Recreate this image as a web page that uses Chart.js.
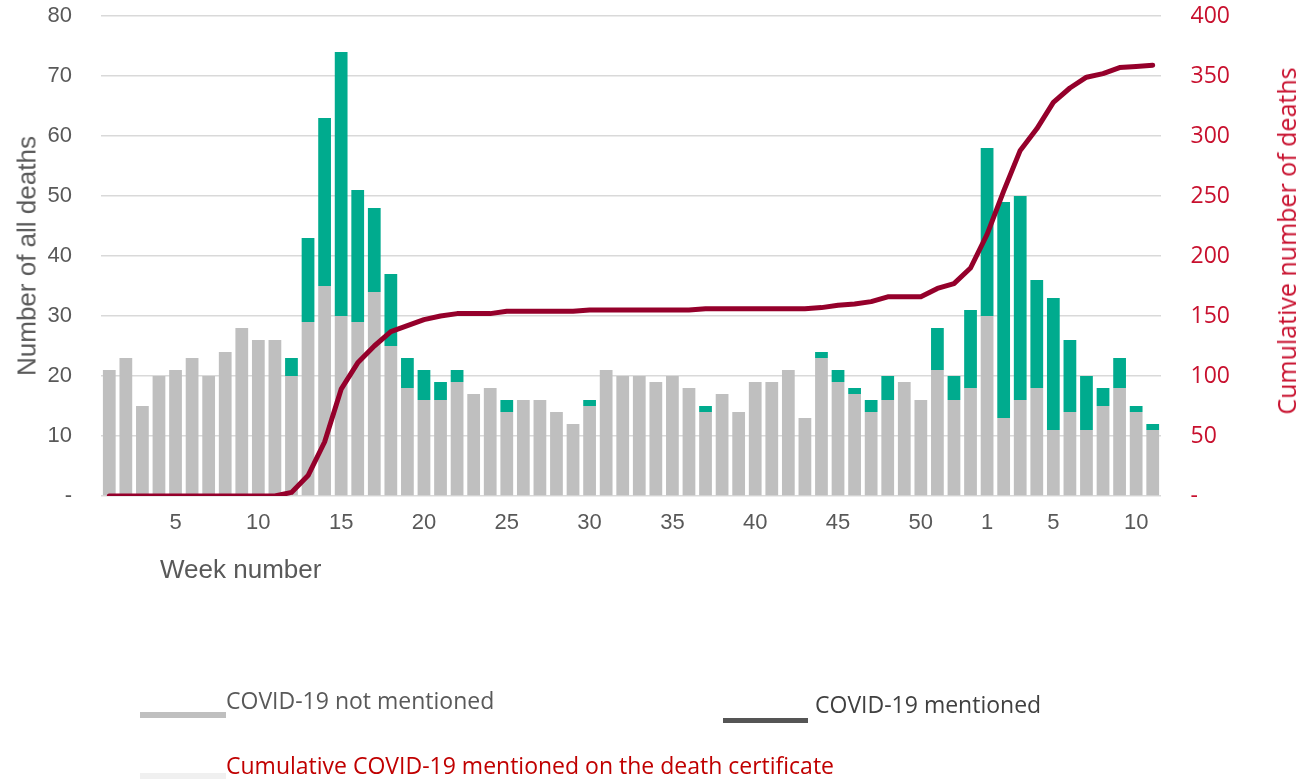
<!DOCTYPE html>
<html>
<head>
<meta charset="utf-8">
<script src="https://cdn.jsdelivr.net/npm/chart.js@4.4.1/dist/chart.umd.min.js"></script>
<style>
  html, body { margin: 0; padding: 0; background: #ffffff; }
  #wrap { position: relative; width: 1301px; height: 779px; overflow: hidden; }
  #c { position: absolute; left: 0; top: 0; }
  .t { position: absolute; white-space: nowrap; }
  .lib { font-family: "Liberation Sans", Arial, sans-serif; line-height: 1.117; }
  .os { font-family: "Open Sans", "Noto Sans", sans-serif; line-height: 1.362; }
  .sw { position: absolute; }
</style>
</head>
<body>
<div id="wrap">
  <canvas id="c" width="1301" height="779"></canvas>

  <div class="t lib" id="ytitle" style="font-size:26px;color:#595959;left:27px;top:256px;transform:translate(-50%,-50%) rotate(-90deg);">Number of all deaths</div>
  <div class="t os" id="y1title" style="font-size:25px;color:#C8102E;left:1286px;top:241px;transform:translate(-50%,-50%) rotate(-90deg);">Cumulative number of deaths</div>
  <div class="t lib" style="font-size:26px;color:#595959;left:160px;top:554.5px;">Week number</div>

  <div class="sw" style="left:140px;top:712px;width:86px;height:6px;background:#BFBFBF;"></div>
  <div class="t os" style="font-size:23px;color:#595959;left:226px;top:685.4px;">COVID-19 not mentioned</div>

  <div class="sw" style="left:723px;top:718px;width:85px;height:5px;background:#555555;"></div>
  <div class="t os" style="font-size:23px;color:#404040;left:815px;top:689.4px;">COVID-19 mentioned</div>

  <div class="sw" style="left:140px;top:773px;width:86px;height:6px;background:#F0F0F0;"></div>
  <div class="t os" style="font-size:23px;color:#C00000;left:226px;top:750.4px;">Cumulative COVID-19 mentioned on the death certificate</div>
</div>

<script>
// Week categories: 2020 weeks 1-53, then 2021 weeks 1-11
const weeks = [
  '1','2','3','4','5','6','7','8','9','10','11','12','13','14','15','16','17','18','19','20',
  '21','22','23','24','25','26','27','28','29','30','31','32','33','34','35','36','37','38','39','40',
  '41','42','43','44','45','46','47','48','49','50','51','52','53',
  '1','2','3','4','5','6','7','8','9','10','11'
];
const tickLabels = [
  '','','','','5','','','','','10','','','','','15','','','','','20',
  '','','','','25','','','','','30','','','','','35','','','','','40',
  '','','','','45','','','','','50','','','',
  '1','','','','5','','','','','10',''
];
// COVID-19 not mentioned (grey)
const notMentioned = [
  21,23,15,20,21,23,20,24,28,26,26,20,29,35,30,29,34,25,18,16,
  16,19,17,18,14,16,16,14,12,15,21,20,20,19,20,18,14,17,14,19,
  19,21,13,23,19,17,14,16,19,16,21,16,18,
  30,13,16,18,11,14,11,15,18,14,11
];
// COVID-19 mentioned (green)
const mentioned = [
  0,0,0,0,0,0,0,0,0,0,0,3,14,28,44,22,14,12,5,5,
  3,2,0,0,2,0,0,0,0,1,0,0,0,0,0,0,1,0,0,0,
  0,0,0,1,2,1,2,4,0,0,7,4,13,
  28,36,34,18,22,12,9,3,5,1,1
];
// Cumulative COVID-19 mentioned on the death certificate (line, right axis)
const cumulative = [
  0,0,0,0,0,0,0,0,0,0,0,3,17,45,89,111,125,137,142,147,
  150,152,152,152,154,154,154,154,154,155,155,155,155,155,155,155,156,156,156,156,
  156,156,156,157,159,160,162,166,166,166,173,177,190,
  218,254,288,306,328,340,349,352,357,358,359
];
const leftTicks = [0,10,20,30,40,50,60,70,80];
const rightTicks = [0,50,100,150,200,250,300,350,400];

const grey = '#BFBFBF';
const green = '#00AB8E';
const lineColor = '#95002B';
const axisGrey = '#595959';
const red = '#C8102E';

function noPad(s) { s.paddingTop = 0; s.paddingBottom = 0; s.paddingLeft = 0; s.paddingRight = 0; }

const ctx = document.getElementById('c').getContext('2d');
new Chart(ctx, {
  data: {
    labels: weeks,
    datasets: [
      {
        type: 'line', label: 'Cumulative COVID-19 mentioned on the death certificate',
        data: cumulative, yAxisID: 'y1', order: 0,
        borderColor: lineColor, backgroundColor: lineColor, borderWidth: 5,
        pointRadius: 0, tension: 0, borderCapStyle: 'round', borderJoinStyle: 'round', fill: false
      },
      {
        type: 'bar', label: 'COVID-19 not mentioned', data: notMentioned, yAxisID: 'y', order: 1,
        backgroundColor: grey, borderWidth: 0, stack: 's', barPercentage: 1, categoryPercentage: 0.77
      },
      {
        type: 'bar', label: 'COVID-19 mentioned', data: mentioned, yAxisID: 'y', order: 2,
        backgroundColor: green, borderWidth: 0, stack: 's', barPercentage: 1, categoryPercentage: 0.77
      }
    ]
  },
  options: {
    responsive: false,
    animation: false,
    layout: { padding: { top: 16, left: 0, right: 0, bottom: 0 } },
    plugins: { legend: { display: false }, tooltip: { enabled: false }, title: { display: false } },
    scales: {
      x: {
        stacked: true,
        grid: { display: false, drawTicks: false },
        border: { display: false },
        ticks: {
          autoSkip: false, maxRotation: 0, minRotation: 0, padding: 14,
          color: axisGrey, font: { family: 'Liberation Sans', size: 22 },
          callback: (v, i) => tickLabels[i]
        },
        afterFit: s => { s.height = 283; noPad(s); }
      },
      y: {
        position: 'left', stacked: true, min: 0, max: 80,
        afterBuildTicks: s => { s.ticks = leftTicks.map(v => ({ value: v })); },
        grid: { color: '#D9D9D9', lineWidth: 1.5, drawTicks: false },
        border: { display: false },
        ticks: {
          padding: 29, color: axisGrey, font: { family: 'Liberation Sans', size: 22 },
          callback: v => (v === 0 ? '-' : String(v))
        },
        afterFit: s => { s.width = 101; noPad(s); }
      },
      y1: {
        position: 'right', stacked: false, min: 0, max: 400,
        afterBuildTicks: s => { s.ticks = rightTicks.map(v => ({ value: v })); },
        grid: { display: false, drawTicks: false },
        border: { display: false },
        ticks: {
          padding: 29.5, color: red, font: { family: 'Open Sans', size: 23 },
          callback: v => (v === 0 ? '-' : String(v))
        },
        afterFit: s => { s.width = 140; noPad(s); }
      }
    }
  }
});
</script>
</body>
</html>
